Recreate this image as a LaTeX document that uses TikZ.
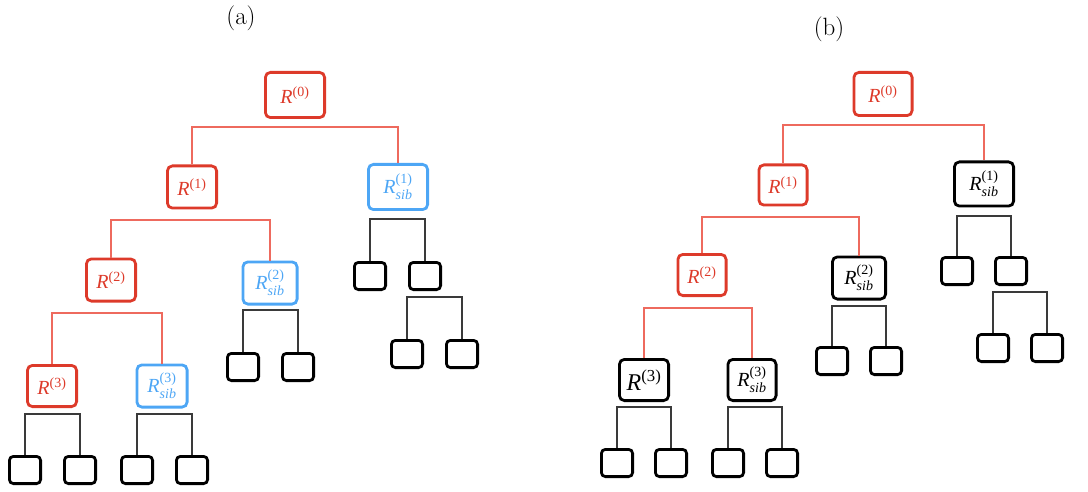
\documentclass[tikz,border=0pt]{standalone}
\usepackage{amsmath}
\usepackage{fontspec}
\newfontfamily\tnr{Liberation Serif}
\definecolor{boxred}{HTML}{DD3A2A}
\definecolor{linered}{HTML}{EE6A5E}
\definecolor{boxblue}{HTML}{4DA6F5}
\definecolor{linegray}{HTML}{3A3A3A}
\tikzset{
  tbox/.style={draw, rounded corners=5pt, line width=2.8pt, inner sep=0pt,
    font=\tnr\fontsize{20}{22}\selectfont},
  redbox/.style={tbox, draw=boxred, text=boxred},
  bluebox/.style={tbox, draw=boxblue, text=boxblue},
  blackbox/.style={tbox, draw=black, text=black},
  leaf/.style={draw, rounded corners=4pt, line width=2.8pt, inner sep=0pt,
    minimum width=31.2pt, minimum height=27.2pt},
  dims/.style 2 args={minimum width=#1, minimum height=#2},
  redbr/.style={draw=linered, line width=1.3pt},
  graybr/.style={draw=linegray, line width=1.3pt},
  caption/.style={font=\fontsize{25}{28}\selectfont}
}
\newcommand{\brk}[4]{\draw[#1] (#2.north) -- (#2.north |- 0,#4) -- (#3.north |- 0,#4) -- (#3.north);}
\begin{document}
\begin{tikzpicture}[x=1pt,y=-1pt]
\useasboundingbox (0,0) rectangle (1088,492);
% ---------- (a) ----------
\node[caption] (capa) at (241,18) {(a)};
\node[redbox, dims={59.2pt}{45.2pt}] (R0a) at (295,95) {$\textit{R}^{\text{(0)}}$};
\node[redbox, dims={49.2pt}{42.2pt}] (R1a) at (192,187) {$\textit{R}^{\text{(1)}}$};
\node[bluebox, dims={59.2pt}{45.2pt}] (S1a) at (398,187) {$\textit{R}^{\text{(1)}}_{\textit{sib}}$};
\node[redbox, dims={49.2pt}{42.2pt}] (R2a) at (111,280) {$\textit{R}^{\text{(2)}}$};
\node[bluebox, dims={54.2pt}{42.2pt}] (S2a) at (270,283) {$\textit{R}^{\text{(2)}}_{\textit{sib}}$};
\node[redbox, dims={49.2pt}{41.2pt}] (R3a) at (52,386) {$\textit{R}^{\text{(3)}}$};
\node[bluebox, dims={50.2pt}{42.2pt}] (S3a) at (162,386) {$\textit{R}^{\text{(3)}}_{\textit{sib}}$};
\node[leaf] (a1) at (370,276) {};
\node[leaf] (a2) at (425,276) {};
\node[leaf] (a3) at (407,354) {};
\node[leaf] (a4) at (462,354) {};
\node[leaf] (a5) at (243,367) {};
\node[leaf] (a6) at (298,367) {};
\node[leaf] (a7) at (25,470) {};
\node[leaf] (a8) at (80,470) {};
\node[leaf] (a9) at (137,470) {};
\node[leaf] (a10) at (192,470) {};
\brk{redbr}{R1a}{S1a}{127}
\brk{redbr}{R2a}{S2a}{220}
\brk{graybr}{a1}{a2}{219}
\brk{graybr}{a3}{a4}{297}
\brk{redbr}{R3a}{S3a}{313}
\brk{graybr}{a5}{a6}{310}
\brk{graybr}{a7}{a8}{414}
\brk{graybr}{a9}{a10}{414}
% ---------- (b) ----------
\node[caption] (capb) at (829,29) {(b)};
\node[redbox, dims={58.2pt}{43.2pt}] (R0b) at (883,94) {$\textit{R}^{\text{(0)}}$};
\node[redbox, dims={48.2pt}{40.2pt}] (R1b) at (783,185) {$\textit{R}^{\text{(1)}}$};
\node[blackbox, dims={59.2pt}{44.2pt}] (S1b) at (984,184) {$\textit{R}^{\text{(1)}}_{\textit{sib}}$};
\node[redbox, dims={48.2pt}{41.2pt}] (R2b) at (702,275) {$\textit{R}^{\text{(2)}}$};
\node[blackbox, dims={53.2pt}{42.2pt}] (S2b) at (859,278) {$\textit{R}^{\text{(2)}}_{\textit{sib}}$};
\node[blackbox, dims={49.2pt}{41.2pt}, font=\tnr\fontsize{24}{26}\selectfont] (R3b) at (644,380) {$\textit{R}^{\text{(3)}}$};
\node[blackbox, dims={48.2pt}{41.2pt}] (S3b) at (752,380) {$\textit{R}^{\text{(3)}}_{\textit{sib}}$};
\node[leaf] (b1) at (957,271) {};
\node[leaf] (b2) at (1011,271) {};
\node[leaf] (b3) at (993,348) {};
\node[leaf] (b4) at (1047,348) {};
\node[leaf] (b5) at (832,361) {};
\node[leaf] (b6) at (886,361) {};
\node[leaf] (b7) at (617,463) {};
\node[leaf] (b8) at (671,463) {};
\node[leaf] (b9) at (728,463) {};
\node[leaf] (b10) at (782,463) {};
\brk{redbr}{R1b}{S1b}{125}
\brk{redbr}{R2b}{S2b}{217}
\brk{graybr}{b1}{b2}{216}
\brk{graybr}{b3}{b4}{292}
\brk{redbr}{R3b}{S3b}{308}
\brk{graybr}{b5}{b6}{306}
\brk{graybr}{b7}{b8}{407}
\brk{graybr}{b9}{b10}{407}
\end{tikzpicture}
\end{document}
